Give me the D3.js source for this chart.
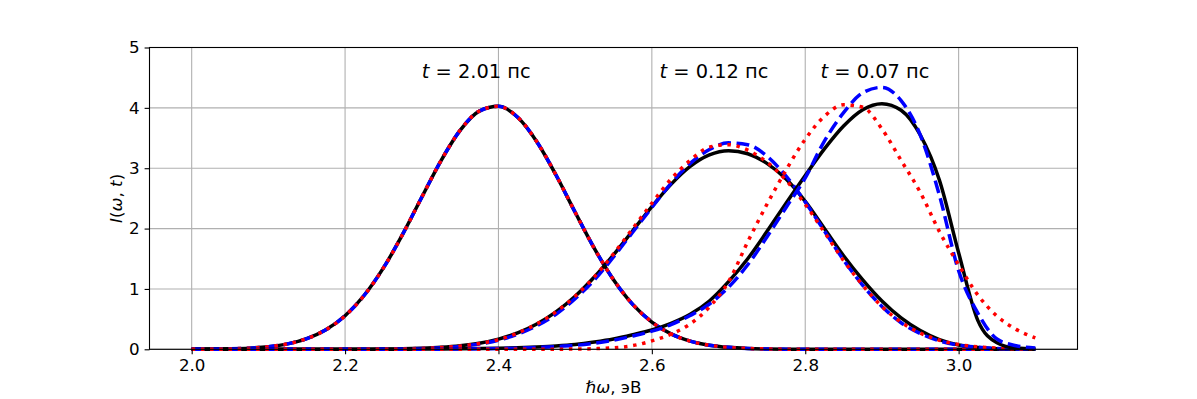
<!DOCTYPE html>
<html>
<head>
<meta charset="utf-8">
<script src="https://cdn.jsdelivr.net/npm/d3@7/dist/d3.min.js"></script>
<style>
  html, body { margin: 0; padding: 0; background: #fff; }
  svg { display: block; }
  text { font-family: "DejaVu Sans", sans-serif; }
</style>
</head>
<body>
<svg id="chart" width="1197" height="399"></svg>
<script>
// photon energy grid, eV
const omega = [2.000,2.025,2.050,2.075,2.100,2.125,2.150,2.175,2.200,2.225,2.250,2.275,2.300,2.325,2.350,2.375,2.400,2.425,2.450,2.475,2.500,2.525,2.550,2.575,2.600,2.625,2.650,2.675,2.700,2.725,2.750,2.775,2.800,2.825,2.850,2.875,2.900,2.925,2.950,2.975,3.000,3.025,3.050,3.075,3.100];

// t = 2.01 ps (all three curves coincide)
const t201Black = [0.001,0.003,0.008,0.019,0.043,0.090,0.177,0.324,0.556,0.895,1.348,1.903,2.519,3.123,3.627,3.947,4.025,3.845,3.440,2.888,2.270,1.672,1.153,0.745,0.452,0.256,0.136,0.068,0.032,0.014,0.006,0.002,0.001,0,0,0,0,0,0,0,0,0,0,0,0];
const t201Blue  = [0.001,0.003,0.008,0.019,0.043,0.090,0.177,0.324,0.556,0.895,1.348,1.903,2.519,3.123,3.627,3.947,4.025,3.845,3.440,2.888,2.270,1.672,1.153,0.745,0.452,0.256,0.136,0.068,0.032,0.014,0.006,0.002,0.001,0,0,0,0,0,0,0,0,0,0,0,0];
const t201Red   = [0.001,0.003,0.008,0.019,0.043,0.090,0.177,0.324,0.556,0.895,1.348,1.903,2.519,3.123,3.627,3.947,4.025,3.845,3.440,2.888,2.270,1.672,1.153,0.745,0.452,0.256,0.136,0.068,0.032,0.014,0.006,0.002,0.001,0,0,0,0,0,0,0,0,0,0,0,0];

// t = 0.12 ps
const t012Black = [0,0,0,0,0,0,0,0.001,0.001,0.002,0.004,0.008,0.017,0.032,0.058,0.101,0.169,0.271,0.418,0.619,0.879,1.197,1.565,1.964,2.365,2.733,3.03,3.22,3.29,3.24,3.08,2.82,2.45,2.00,1.55,1.15,0.80,0.52,0.31,0.16,0.07,0.03,0.01,0.005,0.002];
const t012Blue  = [0,0,0,0,0,0,0,0,0.001,0.001,0.003,0.006,0.013,0.026,0.048,0.087,0.15,0.25,0.39,0.58,0.84,1.15,1.53,1.94,2.35,2.75,3.08,3.31,3.42,3.39,3.20,2.87,2.44,1.96,1.48,1.06,0.71,0.44,0.26,0.14,0.07,0.035,0.015,0.006,0.002];
const t012Red   = [0,0,0,0,0,0,0,0,0.001,0.001,0.003,0.007,0.015,0.029,0.053,0.095,0.16,0.27,0.42,0.62,0.88,1.20,1.58,2.00,2.42,2.82,3.13,3.35,3.39,3.30,3.10,2.80,2.40,1.94,1.47,1.06,0.71,0.45,0.27,0.15,0.08,0.04,0.02,0.008,0.003];

// t = 0.07 ps
const t007Black = [0,0,0,0,0,0,0,0,0.001,0.001,0.001,0.002,0.003,0.005,0.008,0.012,0.017,0.025,0.038,0.055,0.08,0.12,0.17,0.24,0.32,0.43,0.58,0.80,1.12,1.50,1.95,2.42,2.88,3.32,3.70,3.97,4.07,3.96,3.55,2.80,1.60,0.48,0.11,0.02,0.005];
const t007Blue  = [0,0,0,0,0,0,0,0,0,0,0.001,0.001,0.002,0.003,0.005,0.008,0.012,0.019,0.03,0.045,0.065,0.10,0.15,0.22,0.30,0.41,0.56,0.75,1.03,1.40,1.86,2.35,2.84,3.45,3.92,4.25,4.34,4.12,3.55,2.55,1.30,0.60,0.17,0.06,0.02];
const t007Red   = [0,0,0,0,0,0,0,0,0,0,0,0,0,0,0,0,0,0,0,0.002,0.004,0.01,0.025,0.06,0.14,0.25,0.42,0.70,1.12,1.78,2.40,2.97,3.48,3.86,4.05,4.01,3.65,3.13,2.60,1.95,1.40,0.90,0.55,0.33,0.19];

const annotationText = ["2.01", "0.12", "0.07"];
const annotationAt   = [2.30, 2.61, 2.82];
const annotationLevel = 4.5;

const xTicks = [2.0, 2.2, 2.4, 2.6, 2.8, 3.0];
const yTicks = [0, 1, 2, 3, 4, 5];

const padL = 149.5, padR = 1077.5, padT = 47.5, padB = 349.3;
const svg = d3.select("#chart");

const x = d3.scaleLinear().domain([1.945, 3.155]).range([padL, padR]);
const y = d3.scaleLinear().domain([0, 5]).range([padB, padT]);

// grid
const grid = svg.append("g");
grid.selectAll(".gx").data(xTicks).enter().append("line")
  .attr("x1", d => x(d)).attr("x2", d => x(d)).attr("y1", padT).attr("y2", padB)
  .attr("stroke", "#b0b0b0").attr("stroke-width", 1.1);
grid.selectAll(".gy").data(yTicks).enter().append("line")
  .attr("x1", padL).attr("x2", padR).attr("y1", d => y(d)).attr("y2", d => y(d))
  .attr("stroke", "#b0b0b0").attr("stroke-width", 1.1);

// curves
const line = d3.line().x(d => x(d[0])).y(d => y(d[1])).curve(d3.curveMonotoneX);
const sets = [
  [t201Black, t201Blue, t201Red],
  [t012Black, t012Blue, t012Red],
  [t007Black, t007Blue, t007Red]
];
const styles = [
  {stroke: "#000000", dash: null},
  {stroke: "#0000ff", dash: "12.8,5.6"},
  {stroke: "#ff0000", dash: "3.5,5.7"}
];
const curves = svg.append("g");
sets.forEach(set => {
  set.forEach((vals, i) => {
    curves.append("path")
      .datum(omega.map((w, k) => [w, vals[k]]))
      .attr("d", line)
      .attr("fill", "none")
      .attr("stroke", styles[i].stroke)
      .attr("stroke-width", 3.5)
      .attr("stroke-dasharray", styles[i].dash);
  });
});

// axes
const fmt = d3.format(".1f");
const xAxis = svg.append("g").attr("transform", `translate(0,${padB})`)
  .call(d3.axisBottom(x).tickValues(xTicks).tickFormat(fmt).tickSize(4.9).tickPadding(4.9));
const yAxis = svg.append("g").attr("transform", `translate(${padL},0)`)
  .call(d3.axisLeft(y).tickValues(yTicks).tickFormat(d3.format("d")).tickSize(4.9).tickPadding(4.9));
[xAxis, yAxis].forEach(a => {
  a.select(".domain").remove();
  a.selectAll(".tick line").attr("stroke", "#000").attr("stroke-width", 1.1);
  a.selectAll(".tick text").attr("font-family", "DejaVu Sans").attr("font-size", 16.7).attr("fill", "#000");
});

// frame
svg.append("rect").attr("x", padL).attr("y", padT)
  .attr("width", padR - padL).attr("height", padB - padT)
  .attr("fill", "none").attr("stroke", "#000").attr("stroke-width", 1.1);

// annotations
annotationText.forEach((txt, i) => {
  const t = svg.append("text")
    .attr("x", x(annotationAt[i])).attr("y", y(annotationLevel))
    .attr("font-size", 19.4).attr("fill", "#000");
  t.append("tspan").attr("font-style", "italic").text("t");
  t.append("tspan").text(" = " + txt + " пс");
});

// axis labels
const xl = svg.append("text")
  .attr("x", (padL + padR) / 2).attr("y", 393)
  .attr("text-anchor", "middle").attr("font-size", 16.7);
xl.append("tspan").attr("font-style", "italic").text("ℏω");
xl.append("tspan").text(", эВ");

const yl = svg.append("text")
  .attr("transform", `translate(122,${(padT + padB) / 2}) rotate(-90)`)
  .attr("text-anchor", "middle").attr("font-size", 16.7);
yl.append("tspan").attr("font-style", "italic").text("I");
yl.append("tspan").text("(");
yl.append("tspan").attr("font-style", "italic").text("ω");
yl.append("tspan").text(", ");
yl.append("tspan").attr("font-style", "italic").text("t");
yl.append("tspan").text(")");
</script>
</body>
</html>
